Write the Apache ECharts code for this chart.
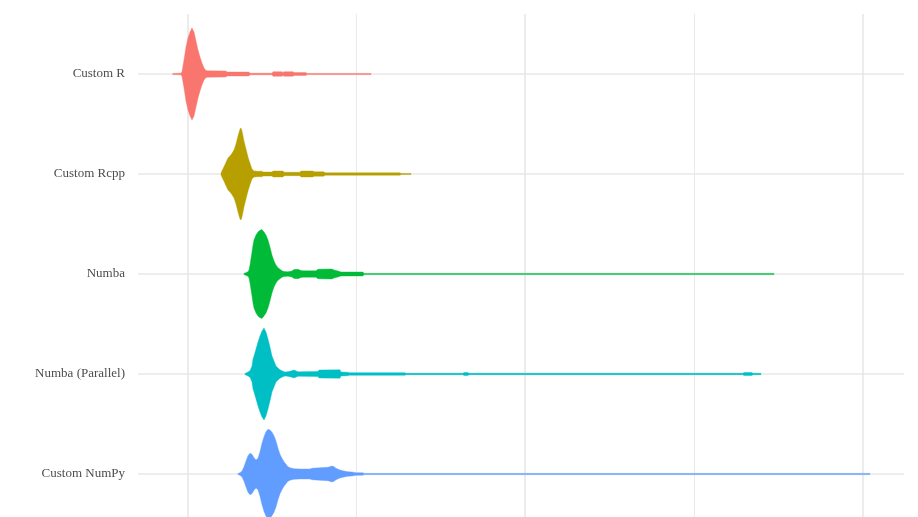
<!DOCTYPE html>
<html>
<head>
<meta charset="utf-8">
<script src="https://cdn.jsdelivr.net/npm/echarts@6/dist/echarts.min.js"></script>
<style>html,body{margin:0;padding:0;background:#fff}#c{width:918px;height:517px}</style>
</head>
<body>
<div id="c"></div>
<script>
// Categories (top to bottom)
var categories = ["Custom R", "Custom Rcpp", "Numba", "Numba (Parallel)", "Custom NumPy"];
var colors = ["#F8766D", "#B79F00", "#00BA38", "#00BFC4", "#619CFF"];

// Violin profiles: [value, half-width (fraction of category spacing)]
var customR = [
  [-9.07,0.006],[-4.15,0.008],[-3.56,0.025],[-2.37,0.14],[-1.19,0.27],[0,0.36],[1.19,0.42],[2.37,0.46],
  [3.56,0.42],[4.74,0.33],[5.93,0.24],[7.12,0.17],[8.30,0.11],[9.49,0.06],[10.68,0.035],[11.86,0.032],
  [22.54,0.03],[23.13,0.02],[36.18,0.02],[36.77,0.008],[49.82,0.008],[50.41,0.023],[55.75,0.023],
  [56.34,0.016],[56.94,0.023],[62.28,0.023],[62.87,0.014],[69.99,0.014],[70.58,0.006],[108.54,0.006]
];
var customRcpp = [
  [19.57,0.007],[20.17,0.033],[21.35,0.073],[22.54,0.117],[23.72,0.16],[24.91,0.18],[26.10,0.207],
  [27.28,0.24],[28.47,0.30],[29.66,0.38],[30.84,0.45],[31.43,0.46],[32.03,0.43],[33.21,0.33],[34.40,0.25],
  [35.59,0.17],[36.77,0.107],[37.96,0.05],[39.14,0.03],[41.52,0.028],[43.89,0.028],[44.48,0.02],
  [49.82,0.02],[50.41,0.03],[56.34,0.03],[56.94,0.017],[66.43,0.017],[67.02,0.03],[74.14,0.03],
  [74.73,0.022],[80.66,0.022],[81.25,0.012],[125.74,0.012],[126.33,0.006],[132.26,0.006]
];
var numba = [
  [33.21,0.006],[35.59,0.023],[36.18,0.04],[36.77,0.09],[37.37,0.157],[37.96,0.22],[38.55,0.29],
  [39.14,0.34],[40.33,0.39],[41.52,0.42],[42.70,0.437],[43.89,0.445],[45.08,0.42],[46.26,0.39],
  [47.45,0.34],[48.63,0.27],[49.82,0.19],[51.01,0.13],[52.19,0.09],[53.38,0.063],[54.57,0.047],
  [55.75,0.033],[56.94,0.025],[59.31,0.022],[61.68,0.03],[62.87,0.045],[65.24,0.047],[67.02,0.035],
  [68.21,0.032],[75.92,0.032],[77.10,0.048],[85.41,0.05],[86.59,0.04],[88.97,0.03],[90.74,0.02],
  [103.79,0.02],[104.39,0.006],[347.56,0.006]
];
var numbaParallel = [
  [33.81,0.006],[35.59,0.02],[36.77,0.033],[37.96,0.08],[38.55,0.15],[39.14,0.18],[40.33,0.25],
  [41.52,0.32],[42.70,0.38],[43.89,0.43],[45.08,0.46],[46.26,0.42],[47.45,0.35],[48.63,0.27],
  [49.82,0.18],[51.01,0.13],[52.19,0.08],[53.38,0.06],[54.57,0.043],[55.75,0.033],[56.94,0.023],
  [58.12,0.02],[60.50,0.027],[62.87,0.04],[65.24,0.023],[77.10,0.025],[77.70,0.04],[90.15,0.042],
  [90.74,0.02],[94.90,0.018],[95.49,0.013],[128.70,0.013],[129.30,0.007],[163.10,0.007],[163.70,0.015],
  [166.07,0.015],[166.66,0.007],[329.17,0.007],[329.76,0.015],[334.51,0.015],[335.10,0.007],[339.85,0.007]
];
var customNumPy = [
  [29.66,0.006],[30.84,0.013],[32.03,0.03],[33.21,0.073],[34.40,0.13],[35.59,0.183],[36.77,0.207],
  [37.96,0.197],[39.14,0.163],[40.33,0.14],[41.52,0.157],[42.70,0.223],[43.89,0.307],[45.08,0.373],
  [46.26,0.423],[47.45,0.447],[48.63,0.44],[49.82,0.417],[51.01,0.383],[52.19,0.33],[53.38,0.257],
  [54.57,0.197],[55.75,0.157],[56.94,0.123],[58.12,0.097],[59.31,0.073],[60.50,0.063],[61.68,0.057],
  [62.87,0.053],[66.43,0.05],[72.36,0.05],[73.54,0.057],[78.29,0.063],[83.03,0.067],[85.41,0.08],
  [86.59,0.073],[87.78,0.057],[90.15,0.04],[92.52,0.03],[94.90,0.023],[97.27,0.02],[99.64,0.013],
  [103.79,0.013],[104.39,0.006],[404.49,0.006]
];
var profiles = [customR, customRcpp, numba, numbaParallel, customNumPy];

// Grid line values
var xMajor = [0, 200, 400];
var xMinor = [100, 300];
var yTicks = [0, 1, 2, 3, 4];

var chart = echarts.init(document.getElementById('c'), null, {renderer: 'canvas'});

function violinRender(idx) {
  return function (params, api) {
    var prof = profiles[idx];
    var top = [], bottom = [];
    for (var i = 0; i < prof.length; i++) {
      top.push(api.coord([prof[i][0], idx - prof[i][1]]));
      bottom.push(api.coord([prof[i][0], idx + prof[i][1]]));
    }
    var pts = top.concat(bottom.reverse());
    return {
      type: 'polygon',
      shape: {points: pts},
      style: {fill: colors[idx], stroke: colors[idx], lineWidth: 0.4}
    };
  };
}

var series = [];
var gridLines = [];
xMajor.forEach(function (v) { gridLines.push({xAxis: v, lineStyle: {width: 1.6}}); });
xMinor.forEach(function (v) { gridLines.push({xAxis: v, lineStyle: {width: 0.9}}); });
yTicks.forEach(function (v) { gridLines.push({yAxis: v, lineStyle: {width: 1.6}}); });
series.push({
  type: 'line', data: [[0, 0]], symbol: 'none', silent: true, z: 1,
  lineStyle: {opacity: 0},
  markLine: {
    silent: true, symbol: ['none', 'none'], label: {show: false},
    lineStyle: {color: '#E8E8E8', type: 'solid'},
    data: gridLines
  }
});
profiles.forEach(function (p, idx) {
  series.push({
    type: 'custom', name: categories[idx], z: 5, silent: true,
    renderItem: violinRender(idx),
    data: [[p[0][0], idx]],
    encode: {x: 0, y: 1}
  });
});

chart.setOption({
  animation: false,
  backgroundColor: '#ffffff',
  grid: {left: 138, top: 14, width: 766, height: 503, containLabel: false},
  xAxis: {
    type: 'value', min: -29.66, max: 424.7,
    axisLine: {show: false}, axisTick: {show: false}, axisLabel: {show: false}, splitLine: {show: false}
  },
  yAxis: {
    type: 'value', inverse: true, min: -0.6, max: 4.43,
    axisLine: {show: false}, axisTick: {show: false}, splitLine: {show: false},
    axisLabel: {
      show: true, customValues: yTicks, margin: 13,
      color: '#4D4D4D', fontFamily: 'Liberation Serif', fontSize: 13,
      formatter: function (v) { return categories[Math.round(v)]; }
    }
  },
  series: series
});
</script>
</body>
</html>
